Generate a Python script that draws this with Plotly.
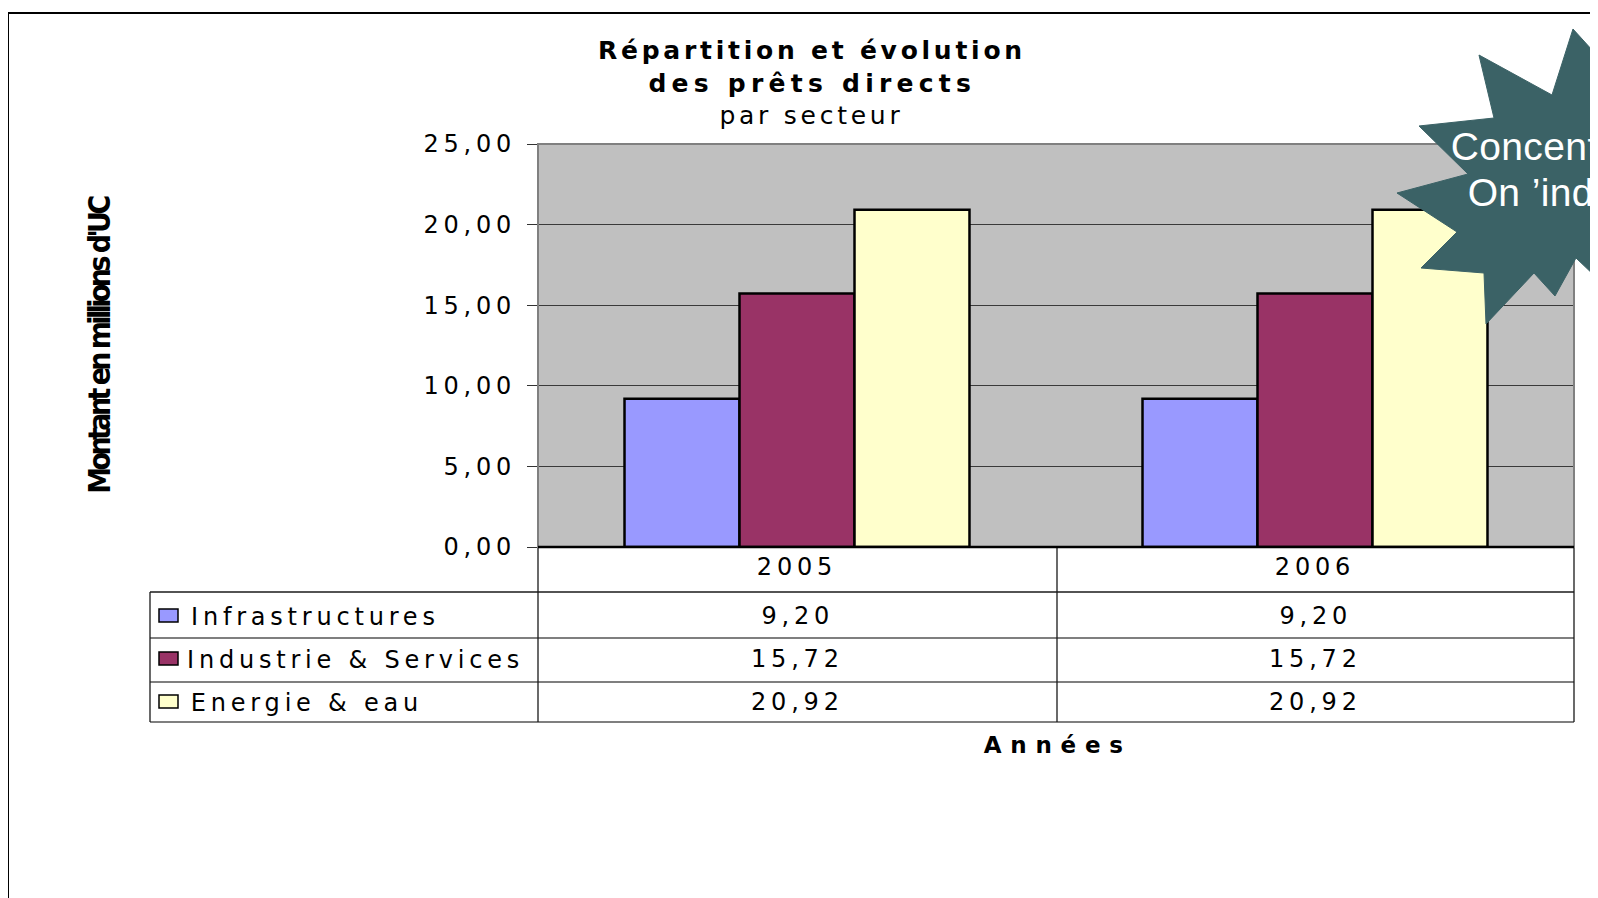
import json
import plotly.graph_objects as go

# ---------------- data ----------------
years = ["2005", "2006"]
series_names = ["Infrastructures", "Industrie & Services", "Energie & eau"]
infrastructures = [9.20, 9.20]
industrie_services = [15.72, 15.72]
energie_eau = [20.92, 20.92]
series_values = [infrastructures, industrie_services, energie_eau]
series_colors = ["#9999FF", "#993366", "#FFFFCC"]
y_ticks = [0, 5, 10, 15, 20, 25]

title_lines = ["Répartition et évolution", "des prêts directs", "par secteur"]
y_title = "Montant en millions d'UC"
x_title = "Années"
callout_lines = ["Concent", "On ’ind"]


def fr(v):
    return f"{v:.2f}".replace(".", ",")


# ---------------- layout helpers (page pixel -> paper) ----------------
W, H = 1598, 898
OFF = 8                      # page body margin
L, R, T, B = 538, 1574, 144, 547   # plot area in page pixels


def px(x):
    return (x - L) / (R - L)


def py(y):
    return (B - y) / (B - T)


FONT = "DejaVu Sans"
BARGAP = 0.334
n_series = len(series_names)
bar_w = (1 - BARGAP) / n_series

fig = go.Figure()
for i, (name, vals, col) in enumerate(zip(series_names, series_values, series_colors)):
    fig.add_trace(go.Bar(
        x=years, y=vals, name=name,
        width=bar_w, offset=-(1 - BARGAP) / 2 + i * bar_w,
        marker=dict(color=col, line=dict(color="black", width=2.5)),
        showlegend=False, hoverinfo="skip",
    ))

shapes = []
annotations = []

# annotation 0: y title (condensed)
annotations.append(dict(
    text=f"<b>{y_title}</b>", xref="paper", yref="paper", x=px(99), y=py(346),
    xanchor="center", yanchor="middle", textangle=-90, showarrow=False,
    font=dict(family="Liberation Sans Narrow, DejaVu Sans Condensed, DejaVu Sans", size=30, color="black"),
))
# annotations 1,2: callout text
for i, (line, yy) in enumerate(zip(callout_lines, [146, 192])):
    annotations.append(dict(
        text=line, xref="paper", yref="paper", x=px(1450 + 17 * i), y=py(yy),
        xanchor="left", yanchor="middle", showarrow=False,
        font=dict(family="Liberation Sans, Arial", size=39, color="white"),
    ))
# annotation 3: x title
annotations.append(dict(
    text=f"<b>{x_title}</b>", xref="paper", yref="paper", x=px(1057), y=py(745),
    xanchor="center", yanchor="middle", showarrow=False,
    font=dict(family=FONT, size=23, color="black"),
))
# annotations 4,5,6: title lines
for line, yy, bold in zip(title_lines, [50, 84, 115], [True, True, False]):
    annotations.append(dict(
        text=f"<b>{line}</b>" if bold else line,
        xref="paper", yref="paper", x=px(812), y=py(yy),
        xanchor="center", yanchor="middle", showarrow=False,
        font=dict(family=FONT, size=25, color="black"),
    ))

# data table
row_centers = [617, 660, 703]
label_centers = [315, 355, 307]
for name, vals, col, yc, lc in zip(series_names, series_values, series_colors,
                                   row_centers, label_centers):
    annotations.append(dict(
        text=name, xref="paper", yref="paper", x=px(lc), y=py(yc),
        xanchor="center", yanchor="middle", showarrow=False,
        font=dict(family=FONT, size=24, color="black"),
    ))
    for k, v in enumerate(vals):
        annotations.append(dict(
            text=fr(v), xref="x", yref="paper", x=k, y=py(yc - 1),
            xanchor="center", yanchor="middle", showarrow=False,
            font=dict(family=FONT, size=24, color="black"),
        ))
    shapes.append(dict(
        type="rect", xref="paper", yref="paper", x0=px(159), x1=px(178),
        y0=py(yc - 8), y1=py(yc + 5), fillcolor=col,
        line=dict(color="black", width=1.5), layer="above",
    ))

line_col = "#1a1a1a"
for yy, c in [(592, line_col), (638, "#555555"), (682, "#555555"), (722, "#555555")]:
    shapes.append(dict(type="line", xref="paper", yref="paper", x0=px(150), x1=px(1574),
                       y0=py(yy), y1=py(yy), line=dict(color=c, width=1.3)))
shapes.append(dict(type="line", xref="paper", yref="paper", x0=px(150), x1=px(150),
                   y0=py(592), y1=py(722), line=dict(color=line_col, width=1.3)))
for xx in [538, 1057, 1574]:
    shapes.append(dict(type="line", xref="paper", yref="paper", x0=px(xx), x1=px(xx),
                       y0=py(547), y1=py(722), line=dict(color=line_col, width=1.3)))

# plot frame
shapes.append(dict(type="rect", xref="paper", yref="paper", x0=0, x1=1, y0=0, y1=1,
                   line=dict(color="#808080", width=2), layer="above"))
shapes.append(dict(type="line", xref="paper", yref="paper", x0=0, x1=1, y0=0, y1=0,
                   line=dict(color="black", width=2.5), layer="above"))

# outer slide frame
shapes.append(dict(type="rect", xref="paper", yref="paper", x0=px(8), x1=px(1700),
                   y0=py(13), y1=py(1000), line=dict(color="black", width=2), layer="below"))

# explosion callout
star = [(1573, 29), (1552, 95), (1479, 55), (1494, 118), (1419, 126), (1468, 174),
        (1397, 193), (1457, 232), (1421, 268), (1484, 273), (1486, 324), (1534, 273),
        (1555, 296), (1576, 258), (1620, 300), (1650, 180), (1612, 72)]
path = "M " + " L ".join(f"{px(a):.5f},{py(b):.5f}" for a, b in star) + " Z"
shapes.append(dict(type="path", xref="paper", yref="paper", path=path,
                   fillcolor="#3B6266", line=dict(color="#3B6266", width=1), layer="above"))

fig.update_layout(
    width=W, height=H, autosize=False,
    margin=dict(l=L - OFF, r=W - (R - OFF), t=T - OFF, b=H - (B - OFF), pad=0),
    paper_bgcolor="white", plot_bgcolor="#C0C0C0",
    barmode="group", bargap=BARGAP, bargroupgap=0,
    font=dict(family=FONT, size=24, color="black"),
    shapes=shapes, annotations=annotations,
    xaxis=dict(type="category", range=[-0.5, 1.5], showgrid=False, showline=False,
               ticks="", ticklabelstandoff=3,
               tickfont=dict(family=FONT, size=24, color="black"), fixedrange=True),
    yaxis=dict(range=[0, 25], tickvals=y_ticks, ticktext=[fr(v) for v in y_ticks],
               showgrid=True, gridcolor="#3a3a3a", gridwidth=1, zeroline=False,
               showline=False, ticks="outside", ticklen=10, tickcolor="#333333",
               tickwidth=1, ticklabelstandoff=6,
               tickfont=dict(family=FONT, size=24, color="black"), fixedrange=True),
)

css = (".main-svg text{letter-spacing:0.2em;}"
       ".annotation[data-index='0'] text{letter-spacing:-0.12em;}"
       ".annotation[data-index='1'] text,.annotation[data-index='2'] text{letter-spacing:0.01em;}"
       ".annotation[data-index='3'] text{letter-spacing:0.38em;}"
       ".annotation[data-index='4'] text{letter-spacing:0.15em;}"
       ".annotation[data-index='5'] text{letter-spacing:0.21em;}"
       ".annotation[data-index='6'] text{letter-spacing:0.15em;}")
post = ("var s=document.createElement('style');s.textContent=" + json.dumps(css)
        + ";document.head.appendChild(s);")

fig.write_html("out.html", post_script=post, config={"displayModeBar": False})
